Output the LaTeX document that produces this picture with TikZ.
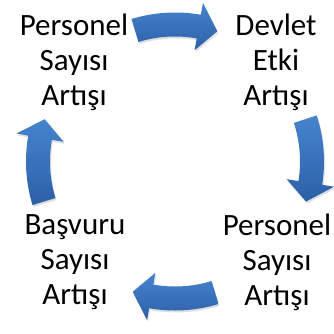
\documentclass[tikz,border=0pt]{standalone}
\usepackage{fontspec}
\setmainfont{Carlito}
\usepackage{tikz}
\usetikzlibrary{shadows}
\definecolor{arrowtop}{RGB}{70,132,206}
\definecolor{arrowbot}{RGB}{44,96,168}

% clockwise block arrow on the cycle, from angle #1 to angle #2
\newcommand{\cyclearrow}[2]{%
  \path[cyclearrow] ([shift={(#1:149)}]hub) arc[start angle=#1, end angle=#2+8, radius=149]
    -- ([shift={(#2+8:161)}]hub) -- ([shift={(#2:137)}]hub) -- ([shift={(#2+8:113)}]hub)
    -- ([shift={(#2+8:125)}]hub) arc[start angle=#2+8, end angle=#1, radius=125] -- cycle;}

\begin{document}
\begin{tikzpicture}[x=1pt,y=1pt,
  cycletext/.style={font=\fontsize{31}{35}\selectfont,align=center,inner sep=0pt},
  cyclearrow/.style={top color=arrowtop,bottom color=arrowbot,
    drop shadow={opacity=0.25,shadow xshift=1pt,shadow yshift=-2pt}}]
  \useasboundingbox (0,0) rectangle (334,333);
  \coordinate (hub) at (175,171.5);
  \node[cycletext] (pers1) at (74,271) {Personel\\Sayısı\\Artışı};
  \node[cycletext] (devlet) at (276,271) {Devlet\\Etki\\Artışı};
  \node[cycletext] (pers2) at (277,71) {Personel\\Sayısı\\Artışı};
  \node[cycletext] (basvuru) at (75,71) {Başvuru\\Sayısı\\Artışı};
  \cyclearrow{107}{72}
  \cyclearrow{18}{-17}
  \cyclearrow{-73}{-108}
  \cyclearrow{197}{162}
\end{tikzpicture}
\end{document}
